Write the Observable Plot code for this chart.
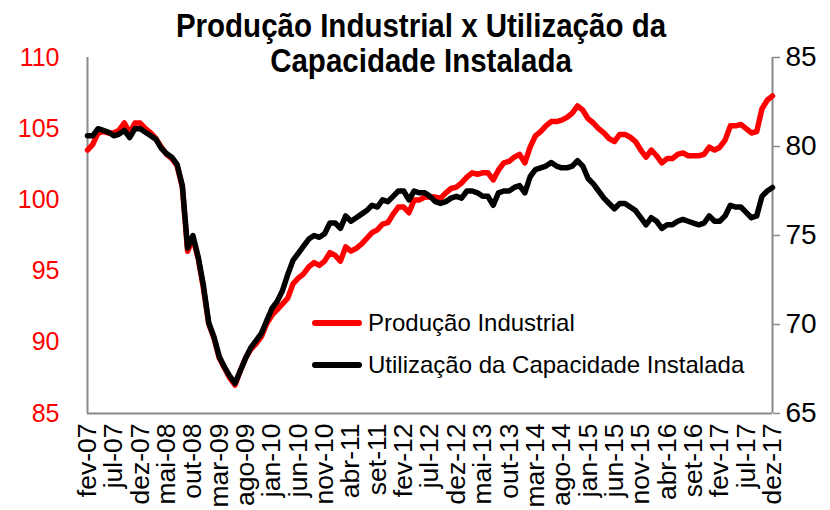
<!DOCTYPE html>
<html>
<head>
<meta charset="utf-8">
<script src="https://cdn.jsdelivr.net/npm/d3@7"></script>
<script src="https://cdn.jsdelivr.net/npm/@observablehq/plot@0.6"></script>
<style>
  body { margin: 0; background: #fff; }
  #wrap { position: relative; width: 830px; height: 510px; overflow: hidden; font-family: Arial, "Liberation Sans", sans-serif; }
  #title { position: absolute; left: 0; width: 842px; top: 8px; text-align: center; font-weight: bold; font-size: 29.5px; line-height: 31px; color: #000; transform: scaleY(1.12); transform-origin: 50% 0; }
  .leg { position: absolute; left: 312px; font-size: 24px; display: flex; align-items: center; color: #000; white-space: nowrap; }
  .sw { width: 50px; height: 6px; border-radius: 3px; margin-right: 6px; }
</style>
</head>
<body>
<div id="wrap">
  <div id="chart"></div>
  <div id="title">Produção Industrial x Utilização da<br>Capacidade Instalada</div>
  <div id="legend"></div>
</div>
<script>
// ---- data ----
const monthNames = ["jan","fev","mar","abr","mai","jun","jul","ago","set","out","nov","dez"];
const startYear = 2007, startMonth = 1, nMonths = 131;
const months = Array.from({length: nMonths}, (_, k) => {
  const t = startMonth + k;
  return monthNames[t % 12] + "-" + String((startYear + Math.floor(t / 12)) % 100).padStart(2, "0");
});
const tickLabels = ["fev-07","jul-07","dez-07","mai-08","out-08","mar-09","ago-09","jan-10","jun-10","nov-10","abr-11","set-11","fev-12","jul-12","dez-12","mai-13","out-13","mar-14","ago-14","jan-15","jun-15","nov-15","abr-16","set-16","fev-17","jul-17","dez-17"];
const leftTicks = [85, 90, 95, 100, 105, 110];
const rightTicks = [65, 70, 75, 80, 85];

const producao = [
  103.5,103.9,104.7,104.8,104.7,104.7,104.9,105.4,104.7,105.4,
  105.4,105.0,104.7,104.3,103.7,103.2,102.9,102.4,100.9,96.4,
  97.3,95.9,93.8,91.3,90.3,88.9,88.2,87.5,87.0,88.0,
  88.9,89.5,89.9,90.4,91.3,91.9,92.3,92.7,93.1,94.1,
  94.5,94.8,95.3,95.6,95.4,95.7,96.3,96.1,95.7,96.7,
  96.4,96.6,96.9,97.3,97.7,97.9,98.3,98.4,99.0,99.5,
  99.5,99.1,100.0,100.0,100.2,100.2,100.2,100.1,100.5,100.8,
  100.9,101.2,101.6,101.9,101.8,101.9,101.9,101.4,102.1,102.6,
  102.7,103.0,103.2,102.6,103.7,104.5,104.8,105.2,105.5,105.5,
  105.6,105.8,106.1,106.6,106.3,105.7,105.4,105.0,104.7,104.3,
  104.1,104.6,104.6,104.4,104.1,103.5,103.0,103.5,103.1,102.6,
  102.9,102.9,103.2,103.3,103.1,103.1,103.1,103.2,103.7,103.5,
  103.7,104.2,105.2,105.2,105.3,105.0,104.7,104.8,106.4,107.0,
  107.3
];
const utilizacao = [
  80.6,80.6,81.0,80.9,80.8,80.6,80.7,80.9,80.5,81.0,
  81.0,80.8,80.6,80.4,79.9,79.6,79.4,79.0,77.8,74.3,
  75.0,73.8,72.2,70.1,69.3,68.2,67.6,67.1,66.7,67.4,
  68.1,68.7,69.1,69.5,70.2,70.9,71.3,71.9,72.8,73.6,
  74.0,74.4,74.8,75.0,74.9,75.1,75.7,75.7,75.4,76.1,
  75.8,76.0,76.2,76.4,76.7,76.6,77.0,76.9,77.2,77.5,
  77.5,77.0,77.5,77.4,77.4,77.2,76.9,76.8,76.9,77.1,
  77.2,77.1,77.5,77.5,77.4,77.2,77.2,76.7,77.4,77.5,
  77.5,77.7,77.8,77.4,78.3,78.7,78.8,78.9,79.1,78.9,
  78.8,78.8,78.9,79.2,78.9,78.2,77.9,77.5,77.1,76.8,
  76.5,76.8,76.8,76.6,76.4,76.0,75.6,76.0,75.8,75.4,
  75.6,75.6,75.8,75.9,75.8,75.7,75.6,75.7,76.1,75.8,
  75.8,76.1,76.7,76.6,76.6,76.3,76.0,76.1,77.2,77.5,
  77.7
];
const seriesNames = ["Produção Industrial", "Utilização da Capacidade Instalada"];
const seriesColors = ["#ff0000", "#000000"];

// ---- chart ----
const toLeft = d3.scaleLinear().domain([rightTicks[0], rightTicks[rightTicks.length - 1]])
                               .range([leftTicks[0], leftTicks[leftTicks.length - 1]]);
const data = months.map((m, i) => ({m, pi: producao[i], uci: toLeft(utilizacao[i])}));
const axisGray = "#898989";
const font = 'Arial, "Liberation Sans", sans-serif';

const chart = Plot.plot({
  width: 830, height: 510,
  marginLeft: 87, marginRight: 58, marginTop: 57, marginBottom: 97,
  style: {fontFamily: font, background: "#fff", color: "#000"},
  x: {type: "point", domain: months, padding: 0},
  y: {domain: [leftTicks[0], leftTicks[leftTicks.length - 1]]},
  marks: [
    Plot.axisX(tickLabels, {tickRotate: -90, tickSize: 0, tickPadding: 10, fontSize: 26.5, label: null, fill: "#000"}),
    Plot.axisY(leftTicks, {anchor: "left", tickSize: 0, tickPadding: 28, fontSize: 25, label: null, fill: "#ff0000"}),
    Plot.axisY(rightTicks.map(v => toLeft(v)), {anchor: "right", tickSize: 7, tickPadding: 6, fontSize: 28, label: null,
      stroke: axisGray, strokeWidth: 1.5, fill: "#000", tickFormat: d => Math.round(toLeft.invert(d))}),
    Plot.ruleX([months[0], months[months.length - 1]], {stroke: axisGray, strokeWidth: 2}),
    Plot.ruleY([leftTicks[0]], {stroke: axisGray, strokeWidth: 2}),
    Plot.line(data, {x: "m", y: "pi", stroke: seriesColors[0], strokeWidth: 5.5}),
    Plot.line(data, {x: "m", y: "uci", stroke: seriesColors[1], strokeWidth: 5.5})
  ]
});
document.getElementById("chart").appendChild(chart);

// ---- legend ----
const legend = document.getElementById("legend");
const legendTops = [309, 351];
seriesNames.forEach((name, i) => {
  const row = document.createElement("div");
  row.className = "leg";
  row.style.top = legendTops[i] + "px";
  const sw = document.createElement("div");
  sw.className = "sw";
  sw.style.background = seriesColors[i];
  const tx = document.createElement("span");
  tx.textContent = name;
  row.appendChild(sw);
  row.appendChild(tx);
  legend.appendChild(row);
});
</script>
</body>
</html>
